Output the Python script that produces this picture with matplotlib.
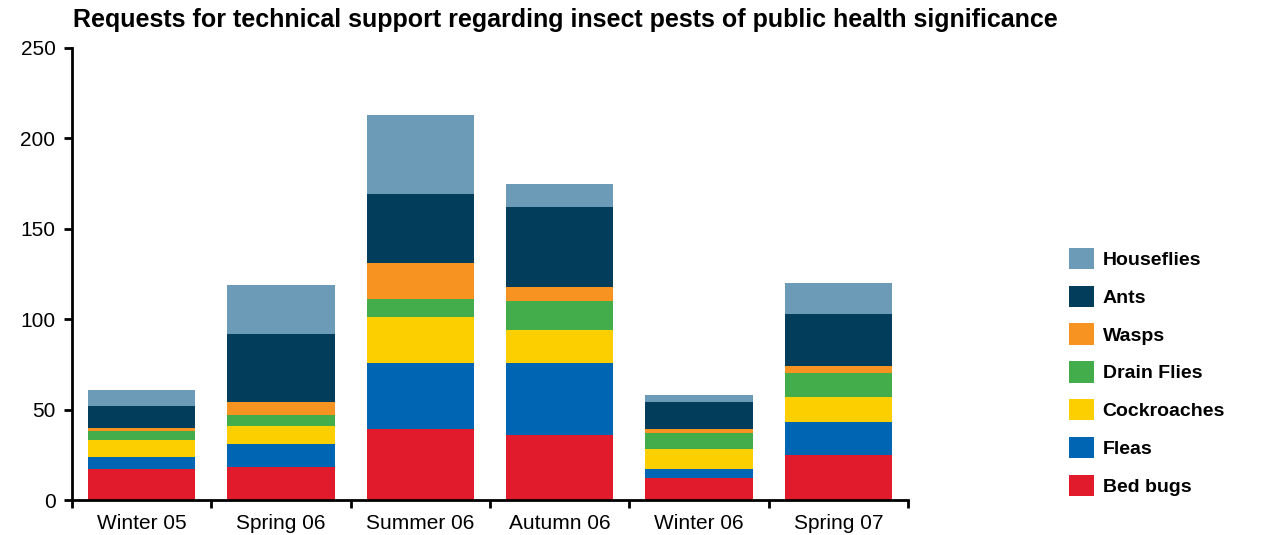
import matplotlib.pyplot as plt
from matplotlib.patches import Patch
import numpy as np

# seasons on the x axis
seasons = ["Winter 05", "Spring 06", "Summer 06", "Autumn 06", "Winter 06", "Spring 07"]

# requests per pest, stacked from the bottom up
bed_bugs = [17, 18, 39, 36, 12, 25]
fleas = [7, 13, 37, 40, 5, 18]
cockroaches = [9, 10, 25, 18, 11, 14]
drain_flies = [5, 6, 10, 16, 9, 13]
wasps = [2, 7, 20, 8, 2, 4]
ants = [12, 38, 38, 44, 15, 29]
houseflies = [9, 27, 44, 13, 4, 17]

series = [
    ("Bed bugs", bed_bugs, "#e11b2c"),
    ("Fleas", fleas, "#0066b3"),
    ("Cockroaches", cockroaches, "#fcd000"),
    ("Drain Flies", drain_flies, "#42ad4a"),
    ("Wasps", wasps, "#f79421"),
    ("Ants", ants, "#023d5b"),
    ("Houseflies", houseflies, "#6b9bb6"),
]

yticks = [0, 50, 100, 150, 200, 250]

plt.rcParams['font.family'] = ['Liberation Sans', 'DejaVu Sans']

fig = plt.figure(figsize=(12.71, 5.35), dpi=100)
ax = fig.add_axes([0.0567, 0.0654, 0.6577, 0.8449])

x = np.arange(len(seasons))
bottom = np.zeros(len(seasons))
for name, vals, col in series:
    ax.bar(x, vals, width=0.77, bottom=bottom, color=col, label=name, linewidth=0)
    bottom += np.array(vals)

ax.set_xlim(-0.5, len(seasons) - 0.5)
ax.set_ylim(0, 250)
ax.set_yticks(yticks)
ax.set_xticks(x)
ax.set_xticklabels(seasons)
ax.set_xticks(np.arange(-0.5, len(seasons)), minor=True)
ax.tick_params(axis='x', which='major', length=0, labelsize=15, pad=10)
ax.tick_params(axis='x', which='minor', length=6, width=2, direction='out')
ax.tick_params(axis='y', length=6, width=2, labelsize=15, pad=6)

for s in ["top", "right"]:
    ax.spines[s].set_visible(False)
for s in ["left", "bottom"]:
    ax.spines[s].set_linewidth(2)

fig.text(0.0575, 0.962, "Requests for technical support regarding insect pests of public health significance",
         fontweight='bold', fontsize=18, va='center', ha='left')

handles = [Patch(facecolor=col, label=name) for name, vals, col in series[::-1]]
ax.legend(handles=handles, loc='center left', bbox_to_anchor=(0.8407, 0.3047),
          bbox_transform=fig.transFigure, frameon=False,
          prop={'weight': 'bold', 'size': 14},
          handlelength=1.3, handleheight=1.3, labelspacing=0.86, handletextpad=0.45,
          borderaxespad=0, borderpad=0)

fig.savefig("out.png", dpi=100)
